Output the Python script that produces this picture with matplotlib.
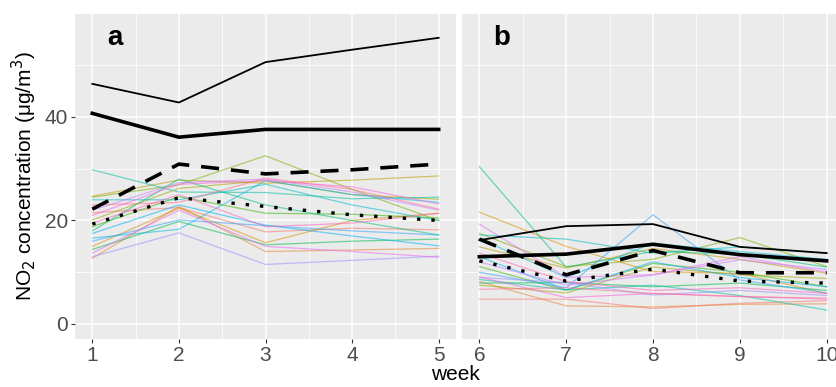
import matplotlib.pyplot as plt
from matplotlib.ticker import MultipleLocator

plt.rcParams['font.family'] = ['Liberation Sans', 'DejaVu Sans']

weeks_a = [1, 2, 3, 4, 5]
weeks_b = [6, 7, 8, 9, 10]

# ggplot default hue palette for 20 sites
site_colors = ["#F8766D", "#EA8331", "#D89000", "#C09B00", "#A3A500",
               "#7CAE00", "#39B600", "#00BB4E", "#00BF7D", "#00C1A3",
               "#00BFC4", "#00BAE0", "#00B0F6", "#35A2FF", "#9590FF",
               "#C77CFF", "#E76BF3", "#FA62DB", "#FF62BC", "#FF6C91"]

# weekly NO2 per site, weeks 1-5
sites_a = [
    [21.5, 22.5, 17.8, 18.5, 18.2],
    [12.7, 22.7, 14.0, 14.3, 14.6],
    [15.0, 22.4, 15.7, 20.0, 21.4],
    [24.7, 27.8, 27.2, 27.8, 28.6],
    [20.1, 26.2, 27.7, 25.0, 24.1],
    [24.5, 26.9, 32.5, 26.0, 20.0],
    [18.8, 24.6, 21.4, 21.2, 20.5],
    [14.4, 19.8, 15.3, 16.0, 16.4],
    [18.0, 28.0, 23.0, 20.0, 17.2],
    [29.8, 25.5, 25.4, 24.2, 24.5],
    [24.0, 24.0, 27.0, 23.0, 20.0],
    [16.6, 18.3, 27.7, 25.0, 23.5],
    [17.5, 23.0, 19.1, 17.0, 15.1],
    [16.0, 20.1, 19.0, 18.0, 17.2],
    [13.0, 17.6, 11.5, 12.3, 13.1],
    [22.0, 27.3, 28.0, 25.5, 22.0],
    [13.7, 22.0, 15.0, 14.0, 12.9],
    [21.0, 27.0, 27.7, 26.5, 23.2],
    [19.5, 25.0, 18.8, 19.5, 21.4],
    [23.0, 23.5, 28.2, 26.0, 22.2],
]

# weekly NO2 per site, weeks 6-10
sites_b = [
    [4.8, 4.8, 3.0, 4.0, 4.5],
    [8.2, 3.5, 3.3, 3.8, 3.9],
    [21.6, 15.0, 10.1, 9.8, 5.9],
    [14.9, 10.8, 14.6, 12.5, 9.8],
    [7.5, 6.0, 11.0, 9.5, 8.8],
    [17.5, 11.1, 12.5, 16.7, 11.1],
    [11.1, 6.5, 11.7, 10.0, 7.2],
    [7.9, 8.0, 7.2, 7.9, 6.5],
    [30.4, 11.0, 14.0, 13.5, 11.0],
    [8.6, 6.6, 7.5, 5.5, 2.7],
    [17.2, 16.4, 13.7, 14.9, 13.7],
    [16.5, 9.0, 15.6, 14.0, 12.5],
    [13.0, 6.6, 12.0, 9.0, 7.2],
    [10.0, 7.0, 21.1, 8.5, 6.0],
    [9.0, 8.0, 5.6, 6.5, 5.5],
    [12.0, 7.5, 9.5, 12.4, 10.5],
    [19.3, 9.0, 9.5, 13.0, 10.0],
    [9.1, 5.1, 5.9, 5.3, 4.8],
    [13.7, 8.2, 6.5, 7.0, 5.9],
    [6.7, 7.0, 5.9, 5.3, 5.0],
]

# summary lines
max_a = [46.4, 42.8, 50.6, 53.0, 55.3]
p90_a = [40.7, 36.1, 37.6, 37.6, 37.6]
p75_a = [22.2, 30.9, 29.0, 29.8, 30.9]
mean_a = [19.3, 24.4, 22.7, 21.1, 20.0]

max_b = [16.2, 18.9, 19.3, 14.9, 13.7]
p90_b = [13.0, 13.5, 15.4, 13.4, 12.2]
p75_b = [16.4, 9.5, 14.2, 9.9, 9.9]
mean_b = [12.2, 8.3, 10.6, 8.3, 7.9]

fig = plt.figure(figsize=(8.36, 3.87), dpi=100)
ax_a = fig.add_axes([75/836, 48/387, 381/836, 325/387])
ax_b = fig.add_axes([462/836, 48/387, 382/836, 325/387])

panels = [(ax_a, weeks_a, sites_a, max_a, p90_a, p75_a, mean_a, 'a'),
          (ax_b, weeks_b, sites_b, max_b, p90_b, p75_b, mean_b, 'b')]

for ax, wk, sites, mx, p90, p75, mn, tag in panels:
    ax.set_facecolor('#EBEBEB')
    for s in ax.spines.values():
        s.set_visible(False)
    for vals, c in zip(sites, site_colors):
        ax.plot(wk, vals, color=c, lw=0.9, alpha=0.55, zorder=2)
    ax.plot(wk, mx, color='black', lw=1.3, zorder=3)
    ax.plot(wk, p90, color='black', lw=2.6, zorder=3)
    ax.plot(wk, p75, color='black', lw=2.6, dashes=(5, 3.3),
            dash_capstyle='butt', zorder=3)
    ax.plot(wk, mn, color='black', lw=2.4, dashes=(1, 3.3),
            dash_capstyle='butt', zorder=3)

    ax.set_xlim(wk[0] - 0.2, wk[-1] + 0.2)
    ax.set_ylim(-2.9, 59.9)
    ax.set_xticks(wk)
    ax.xaxis.set_minor_locator(MultipleLocator(0.5))
    ax.yaxis.set_major_locator(MultipleLocator(20))
    ax.yaxis.set_minor_locator(MultipleLocator(10))
    ax.grid(which='major', color='white', lw=1.1, zorder=1)
    ax.grid(which='minor', color='white', lw=0.55, zorder=1)
    ax.set_axisbelow(True)
    ax.tick_params(which='major', length=3, color='#333333',
                   labelsize=15, labelcolor='#4D4D4D', pad=2)
    ax.tick_params(which='minor', length=0)
    ax.text(0.105, 0.925, tag, transform=ax.transAxes, fontsize=20,
            fontweight='bold', ha='center', va='center')

ax_b.tick_params(axis='y', left=False, labelleft=False)

ax_a.set_ylabel('NO$_2$ concentration (\u03bcg/m$^3$)', fontsize=15, labelpad=4)
fig.text(455/836, 1 - 375/387, 'week', fontsize=15, ha='center', va='center')

fig.savefig('out.png', dpi=100)
